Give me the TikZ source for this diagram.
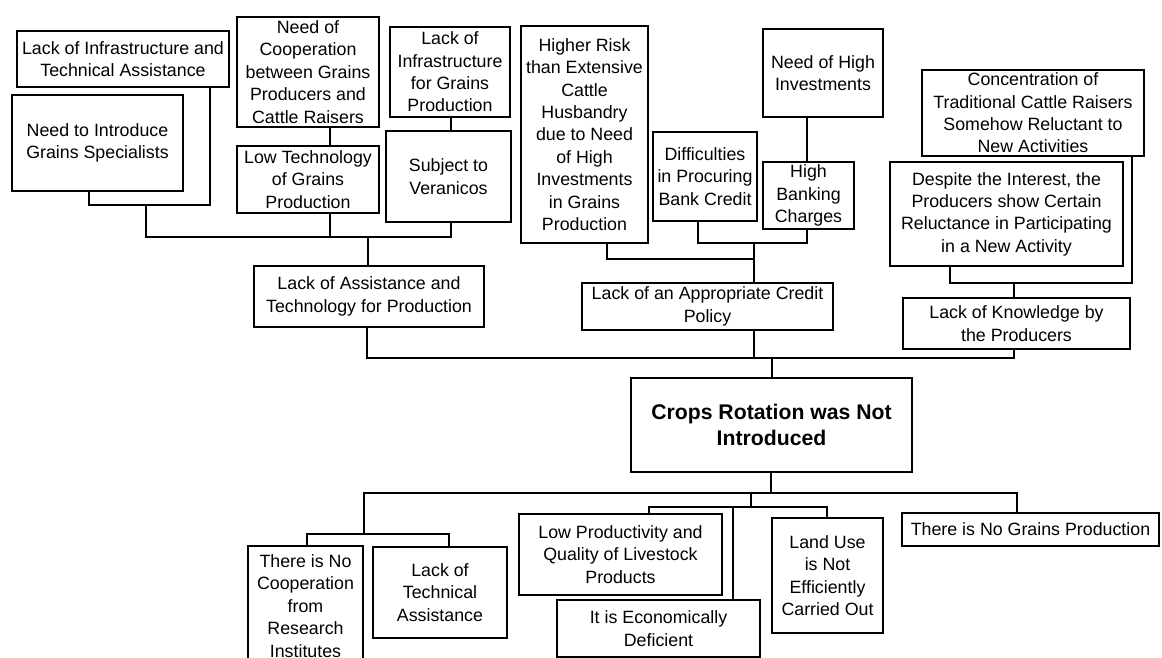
\documentclass[tikz,border=0pt]{standalone}
\usepackage{fontspec}
\setmainfont{Liberation Sans}
\usetikzlibrary{fit,positioning}
\tikzset{box/.style={draw,line width=0.6pt,inner sep=0pt}}
\tikzset{boxtext/.style={align=center,inner sep=0pt,font=\fontsize{8.9}{11.2}\selectfont}}
\tikzset{bigtext/.style={boxtext,font=\fontsize{10.6}{12.8}\selectfont\bfseries}}
\tikzset{link/.style={line width=0.6pt}}

\begin{document}
\begin{tikzpicture}[x=0.5pt,y=-0.5pt]
\useasboundingbox (0,0) rectangle (1162,658);
% causes, left
\node[box,fit={(17,31) (229,87)},label={[boxtext]center:{Lack of Infrastructure and\\Technical Assistance}}] (lackinfra) {};
\node[box,fit={(12,95) (183,191)},label={[boxtext]center:{Need to Introduce\\Grains Specialists}}] (specialists) {};
\node[box,fit={(237,17) (379,127)},label={[boxtext]center:{Need of\\Cooperation\\between Grains\\Producers and\\Cattle Raisers}}] (coop) {};
\node[box,fit={(237,146) (379,213)},label={[boxtext]center:{Low Technology\\of Grains\\Production}}] (lowtech) {};
\node[box,fit={(390,27) (510,117)},label={[boxtext]center:{Lack of\\Infrastructure\\for Grains\\Production}}] (infragrains) {};
\node[box,fit={(386,131) (511,222)},label={[boxtext]center:{Subject to\\Veranicos}}] (veranicos) {};
\node[box,fit={(254,266) (484,327)},label={[boxtext]center:{Lack of Assistance and\\Technology for Production}}] (assistance) {};
% causes, middle
\node[box,fit={(521,26) (648,243)},label={[boxtext]center:{Higher Risk\\than Extensive\\Cattle\\Husbandry\\due to Need\\of High\\Investments\\in Grains\\Production}}] (risk) {};
\node[box,fit={(653,132) (757,221)},label={[boxtext]center:{Difficulties\\in Procuring\\Bank Credit}}] (difficulties) {};
\node[box,fit={(763,29) (883,117)},label={[boxtext]center:{Need of High\\Investments}}] (investments) {};
\node[box,fit={(763,162) (854,229)},label={[boxtext]center:{High\\Banking\\Charges}}] (banking) {};
\node[box,fit={(582,283) (833,330)},label={[boxtext]center:{Lack of an Appropriate Credit\\Policy}}] (credit) {};
% causes, right
\node[box,fit={(922,70) (1144,156)},label={[boxtext]center:{Concentration of\\Traditional Cattle Raisers\\Somehow Reluctant to\\New Activities}}] (traditional) {};
\node[box,fit={(890,162) (1123,266)},label={[boxtext]center:{Despite the Interest, the\\Producers show Certain\\Reluctance in Participating\\in a New Activity}}] (reluctance) {};
\node[box,fit={(903,298) (1130,349)},label={[boxtext]center:{Lack of Knowledge by\\the Producers}}] (knowledge) {};
% core problem
\node[box,fit={(631,378) (912,472)},label={[bigtext]center:{Crops Rotation was Not\\Introduced}}] (crops) {};
% effects
\node[box,fit={(248,546) (363,666)},label={[boxtext]center:{There is No\\Cooperation\\from\\Research\\Institutes}}] (nocoop) {};
\node[box,fit={(373,547) (507,638)},label={[boxtext]center:{Lack of\\Technical\\Assistance}}] (techassist) {};
\node[box,fit={(519,514) (722,595)},label={[boxtext]center:{Low Productivity and\\Quality of Livestock\\Products}}] (lowprod) {};
\node[box,fit={(557,600) (760,657)},label={[boxtext]center:{It is Economically\\Deficient}}] (econ) {};
\node[box,fit={(772,518) (883,633)},label={[boxtext]center:{Land Use\\is Not\\Efficiently\\Carried Out}}] (landuse) {};
\node[box,fit={(902,513) (1159,546)},label={[boxtext]center:{There is No Grains Production}}] (nograins) {};

% junctions
\coordinate (jspec) at (146,205);
\coordinate (jtech) at (368,237);
\coordinate (jbank) at (754,243);
\coordinate (jrisk) at (754,259);
\coordinate (jknow) at (1014,283);
\coordinate (jmain) at (772,358);
\coordinate (jeffect) at (771,493);
\coordinate (jinst) at (364,534);
\coordinate (jprod) at (751,507);

% connectors above
\draw[link] (89,0 |- specialists.south) |- (210,0 |- jspec) -- (210,0 |- lackinfra.south);
\draw[link] (330,0 |- coop.south) -- (330,0 |- lowtech.north);
\draw[link] (451,0 |- infragrains.south) -- (451,0 |- veranicos.north);
\draw[link] (jspec) |- (jtech) -| (451,0 |- veranicos.south);
\draw[link] (330,0 |- lowtech.south) -- (330,0 |- jtech);
\draw[link] (jtech) -- (jtech |- assistance.north);
\draw[link] (807,0 |- investments.south) -- (807,0 |- banking.north);
\draw[link] (698,0 |- difficulties.south) |- (807,0 |- jbank) -- (807,0 |- banking.south);
\draw[link] (607,0 |- risk.south) |- (jrisk);
\draw[link] (jbank) -- (jbank |- credit.north);
\draw[link] (950,0 |- reluctance.south) |- (1132,0 |- jknow) -- (1132,0 |- traditional.south);
\draw[link] (jknow) -- (jknow |- knowledge.north);
\draw[link] (367,0 |- assistance.south) |- (1014,0 |- jmain) -- (1014,0 |- knowledge.south);
\draw[link] (754,0 |- credit.south) -- (754,0 |- jmain);
\draw[link] (jmain) -- (jmain |- crops.north);
% connectors below
\draw[link] (jeffect |- crops.south) -- (jeffect);
\draw[link] (jinst) |- (1017,0 |- jeffect) -- (1017,0 |- nograins.north);
\draw[link] (307,0 |- nocoop.north) |- (449,0 |- jinst) -- (449,0 |- techassist.north);
\draw[link] (jprod) -- (751,0 |- jeffect);
\draw[link] (649,0 |- lowprod.north) |- (827,0 |- jprod) -- (827,0 |- landuse.north);
\draw[link] (733,0 |- jprod) -- (733,0 |- econ.north);
\end{tikzpicture}
\end{document}
